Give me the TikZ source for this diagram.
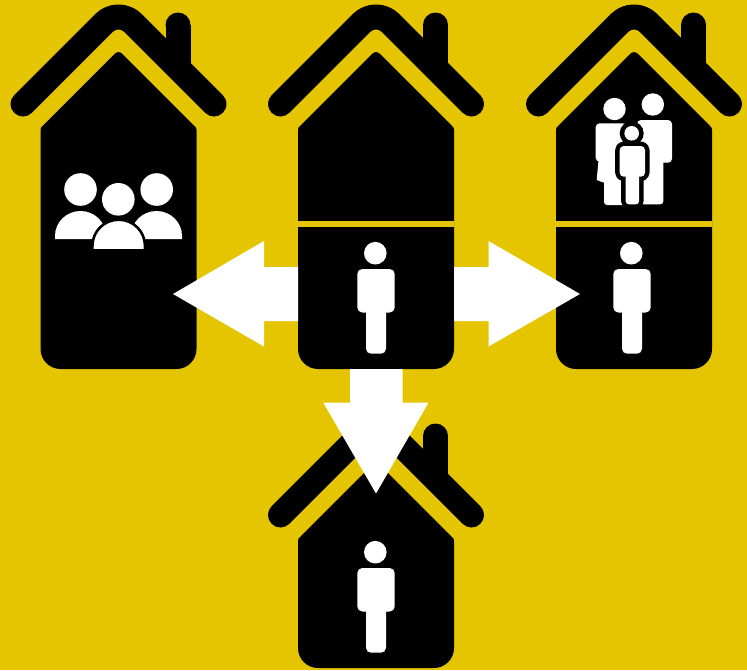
\documentclass[tikz,border=0pt]{standalone}
\definecolor{bgyellow}{RGB}{229,197,0}
\tikzset{
  roofline/.style={draw=black,line width=25pt,line cap=round,line join=round},
  housebody/.style={fill=black},
  divider/.style={draw=bgyellow,line width=5.5pt},
  icon/.style={fill=white},
  flow/.style={fill=white},
  halo/.style={draw=black,fill=black,line width=9pt,line join=round}
}
\newcommand{\houseshape}[1]{%
  \fill[black] (165.5,25) rectangle (190.5,68);
  \fill[black] (178,25) circle[radius=12.5];
  \draw[roofline,rounded corners=20.5pt] (23,104) -- (118.5,8.5) -- (214,104);
  \fill[housebody] (114.5,54) .. controls (117,51.5) and (120,51.5) .. (122.5,54) -- (194.5,126) .. controls (196,127.5) and (196.5,128) .. (196.5,130) -- (196.5,#1-20) .. controls (196.5,#1-9) and (187.5,#1) .. (176.5,#1) -- (60.5,#1) .. controls (49.5,#1) and (40.5,#1-9) .. (40.5,#1-20) -- (40.5,130) .. controls (40.5,128) and (41,127.5) .. (42.5,126) -- cycle;
}
\newcommand{\personicon}{%
  \fill[icon] (375.3,253.2) circle[radius=11.3];
  \fill[icon,rounded corners=5pt] (357.3,269) rectangle (394.7,312.5);
  \fill[icon,rounded corners=5pt] (366,290) rectangle (386,353.7);
}
\begin{document}
\begin{tikzpicture}[x=1pt,y=-1pt]
\useasboundingbox (0,0) rectangle (747,670);
\fill[bgyellow] (0,0) rectangle (747,670);

% house 1
\houseshape{369}
% group icon
\fill[icon] (80.5,189.5) circle[radius=16.3];
\fill[icon] (156.7,189.5) circle[radius=16.3];
\fill[icon] (118.3,199.3) circle[radius=16.3];
\fill[icon] (55,239) -- (55,236) .. controls (55,222.2) and (66.4,211) .. (80.5,211) .. controls (94.6,211) and (106,222.2) .. (106,236) -- (106,239) -- cycle;
\fill[icon] (131,239) -- (131,236) .. controls (131,222.2) and (142.4,211) .. (156.5,211) .. controls (170.6,211) and (182,222.2) .. (182,236) -- (182,239) -- cycle;
\fill[icon,draw=black,line width=2.6pt] (92.4,250.5) -- (92.4,246) .. controls (92.4,231.4) and (104.1,219.7) .. (118.7,219.7) .. controls (133.3,219.7) and (145,231.4) .. (145,246) -- (145,250.5) -- cycle;

% house 2
\begin{scope}[xshift=257.5pt]
\houseshape{369}
\draw[divider] (40.5,224) -- (196.5,224);
\end{scope}
\personicon

% house 3
\begin{scope}[xshift=515.5pt]
\houseshape{369}
\draw[divider] (40.5,224) -- (196.5,224);
\end{scope}
\begin{scope}[xshift=256pt]
\personicon
\end{scope}
% family icon: mother
\fill[icon] (614.5,109) circle[radius=11.2];
\fill[icon,rounded corners=4pt] (595.7,123.3) rectangle (627,161.7);
\fill[icon] (599,155) -- (596.7,180) -- (604,182.7) -- (612,182.7) -- (612,155) -- cycle;
\fill[icon,rounded corners=3pt] (604,150) rectangle (627,205);
% father
\fill[icon] (652.8,104.5) circle[radius=11.2];
\fill[icon,rounded corners=4pt] (637,120) rectangle (672,162.7);
\fill[icon,rounded corners=3pt] (636,150) rectangle (663.3,204.3);
% child
\fill[halo,rounded corners=4pt] (619.7,146) rectangle (645,176.7);
\fill[halo,rounded corners=3pt] (625.7,165) rectangle (639,204.3);
\fill[black] (631.7,133.3) circle[radius=12];
\fill[icon,rounded corners=4pt] (619.7,146) rectangle (645,176.7);
\fill[icon,rounded corners=3pt] (625.7,165) rectangle (639,204.3);
\fill[icon] (631.7,133.3) circle[radius=7.3];

% house 4
\begin{scope}[yshift=-411pt,xshift=257.5pt]
\houseshape{257}
\end{scope}
\begin{scope}[yshift=-299pt]
\personicon
\end{scope}

% arrows
\fill[flow] (298,267) -- (264,267) -- (264,241) -- (173,294) -- (264,346.5) -- (264,321) -- (298,321) -- cycle;
\fill[flow] (454,267) -- (488.5,267) -- (488.5,241) -- (580,294) -- (488.5,346.5) -- (488.5,321) -- (454,321) -- cycle;
\fill[flow] (350,369) -- (350,402.7) -- (323.3,402.7) -- (376,493.5) -- (428.5,402.7) -- (402.5,402.7) -- (402.5,369) -- cycle;
\end{tikzpicture}
\end{document}
